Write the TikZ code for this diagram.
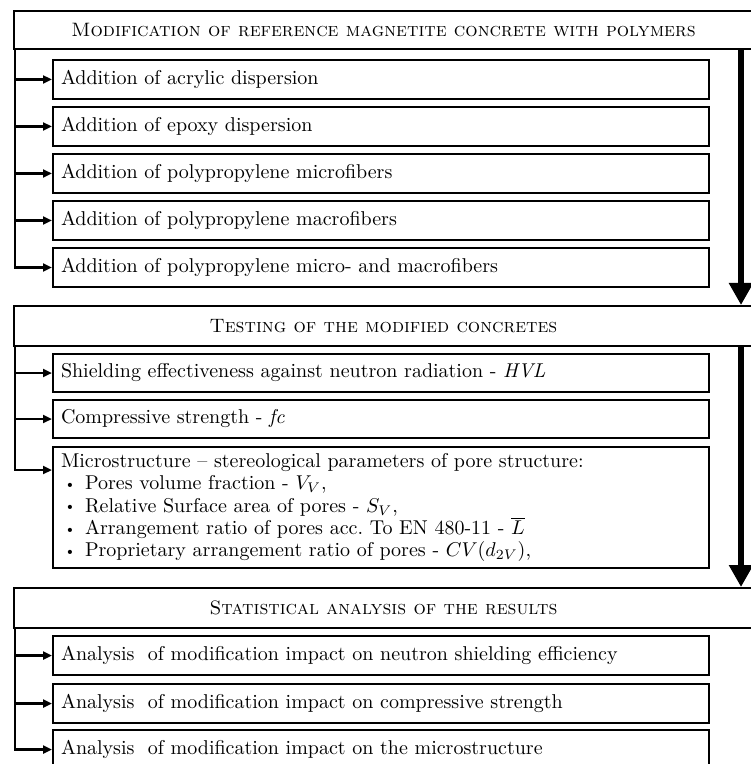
\documentclass[tikz,border=0pt]{standalone}
\usepackage{amsmath}
\usepackage{amssymb}
\usepackage{tikz}
\usetikzlibrary{arrows.meta,calc}

\newcommand{\blt}{\hspace*{1.5pt}\makebox[10.5pt][l]{\raisebox{0.6pt}{\scriptsize\textbullet}}}

\begin{document}
\begin{tikzpicture}[x=0.5pt,y=-0.5pt,
	phase/.style={draw,line width=1pt,anchor=north west,minimum width=369.5pt,minimum height=20pt,inner sep=0pt,font=\fontsize{9.7}{12}\selectfont},
	task/.style={draw,line width=1pt,anchor=north west,minimum height=19.5pt,text width=320pt,inner xsep=4pt,inner ysep=0pt,align=left,font=\fontsize{10}{11}\selectfont},
	branch/.style={line width=1.2pt,-{Triangle[width=4pt,length=4.5pt]}},
	flow/.style={line width=3pt,-{Triangle[width=11.5pt,length=11pt]}}]
	\useasboundingbox (0,0) rectangle (750,764);
	\coordinate (lx) at (15,0);
	\coordinate (rx) at (741,0);

	% first stage
	\node (h1) [phase,minimum height=19pt] at (13,10) {\textsc{Modification of reference magnetite concrete with polymers}};
	\node (a1) [task] at (52,59) {Addition of acrylic dispersion};
	\node (a2) [task] at (52,106) {Addition of epoxy dispersion};
	\node (a3) [task] at (52,153) {Addition of polypropylene microfibers};
	\node (a4) [task] at (52,200) {Addition of polypropylene macrofibers};
	\node (a5) [task] at (52,247) {Addition of polypropylene micro- and macrofibers};

	% second stage
	\node (h2) [phase] at (13,305) {\textsc{Testing of the modified concretes}};
	\node (b1) [task,minimum height=19pt] at (52,353) {Shielding effectiveness against neutron radiation - \textit{HVL}};
	\node (b2) [task,minimum height=19pt] at (52,399) {Compressive strength - \textit{fc}};
	\node (b3) [task,minimum height=60.5pt,font=\fontsize{10}{11.2}\selectfont] at (52,446) {Microstructure -- stereological parameters of pore structure:\\
		\blt Pores volume fraction - $V_V$,\\
		\blt Relative Surface area of pores - $S_V$,\\
		\blt Arrangement ratio of pores acc.\ To EN 480-11 - $\overline{L}$\\
		\blt Proprietary arrangement ratio of pores - $CV(d_{2V})$,};

	% third stage
	\node (h3) [phase] at (13,587) {\textsc{Statistical analysis of the results}};
	\node (c1) [task] at (52,635) {Analysis~ of modification impact on neutron shielding efficiency};
	\node (c2) [task] at (52,683) {Analysis~ of modification impact on compressive strength};
	\node (c3) [task] at (52,729) {Analysis~ of modification impact on the microstructure};

	% branches
	\draw[branch] (h1.south -| lx) |- (a5.west);
	\foreach \n in {a1,a2,a3,a4}
		\draw[branch] (\n.west -| lx) -- (\n.west);
	\draw[branch] (h2.south -| lx) |- ($(b3.north west)+(0,24)$);
	\foreach \n in {b1,b2}
		\draw[branch] (\n.west -| lx) -- (\n.west);
	\draw[branch] (h3.south -| lx) |- (c3.west);
	\foreach \n in {c1,c2}
		\draw[branch] (\n.west -| lx) -- (\n.west);

	% flow between stages
	\draw[flow] (h1.south -| rx) -- (h2.north -| rx);
	\draw[flow] (h2.south -| rx) -- (h3.north -| rx);
\end{tikzpicture}
\end{document}
